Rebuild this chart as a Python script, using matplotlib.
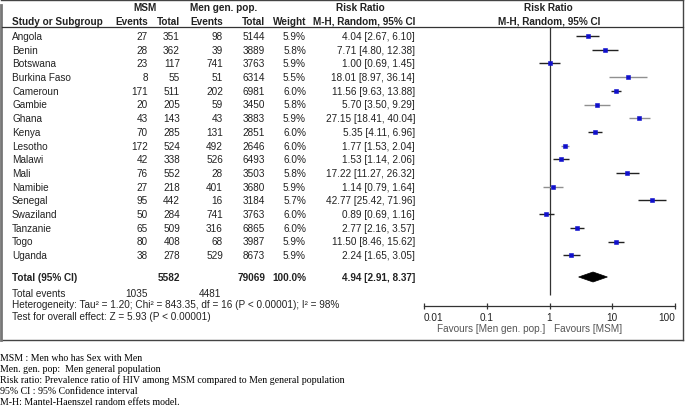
import matplotlib
matplotlib.use("Agg")
import matplotlib.pyplot as plt
from matplotlib.lines import Line2D
from matplotlib.patches import Polygon

studies = ["Angola", "Benin", "Botswana", "Burkina Faso", "Cameroun", "Gambie", "Ghana",
           "Kenya", "Lesotho", "Malawi", "Mali", "Namibie", "Senegal", "Swaziland",
           "Tanzanie", "Togo", "Uganda"]
msm_events = [27, 28, 23, 8, 171, 20, 43, 70, 172, 42, 76, 27, 95, 50, 65, 80, 38]
msm_total = [351, 362, 117, 55, 511, 205, 143, 285, 524, 338, 552, 218, 442, 284, 509, 408, 278]
gen_events = [98, 39, 741, 51, 202, 59, 43, 131, 492, 526, 28, 401, 16, 741, 316, 68, 529]
gen_total = [5144, 3889, 3763, 6314, 6981, 3450, 3883, 2851, 2646, 6493, 3503, 3680, 3184,
             3763, 6865, 3987, 8673]
weights = [5.9, 5.8, 5.9, 5.5, 6.0, 5.8, 5.9, 6.0, 6.0, 6.0, 5.8, 5.9, 5.7, 6.0, 6.0, 5.9, 5.9]
rr = [4.04, 7.71, 1.00, 18.01, 11.56, 5.70, 27.15, 5.35, 1.77, 1.53, 17.22, 1.14, 42.77,
      0.89, 2.77, 11.50, 2.24]
lo = [2.67, 4.80, 0.69, 8.97, 9.63, 3.50, 18.41, 4.11, 1.53, 1.14, 11.27, 0.79, 25.42,
      0.69, 2.16, 8.46, 1.65]
hi = [6.10, 12.38, 1.45, 36.14, 13.88, 9.29, 40.04, 6.96, 2.04, 2.06, 26.32, 1.64, 71.96,
      1.16, 3.57, 15.62, 3.05]
gray_ci = ["Burkina Faso", "Gambie", "Ghana", "Lesotho", "Namibie"]

total_msm = 5582
total_gen = 79069
total_events_msm = 1035
total_events_gen = 4481
pooled = (4.94, 2.91, 8.37)
xticks = [0.01, 0.1, 1, 10, 100]
xticklabels = ["0.01", "0.1", "1", "10", "100"]
footnotes = [
    "MSM : Men who has Sex with Men",
    "Men. gen. pop:  Men general population",
    "Risk ratio: Prevalence ratio of HIV among MSM compared to Men general population",
    "95% CI : 95% Confidence interval",
    "M-H: Mantel-Haenszel random effets model.",
]

W, H = 685, 410
fig = plt.figure(figsize=(W / 100, H / 100), dpi=100)
plt.rcParams['font.family'] = ['Liberation Sans', 'DejaVu Sans']
FS = 7.2
TC = "#222222"


def T(x, y, s, ha="left", bold=False, color=TC, fs=FS, family=None):
    kw = {}
    if family:
        kw["family"] = family
    fig.text(x / W, 1 - y / H, s, ha=ha, va="center", fontsize=fs,
             fontweight="bold" if bold else "normal", color=color, **kw)


def L(x0, y0, x1, y1, color="#333333", lw=0.9):
    fig.add_artist(Line2D([x0 / W, x1 / W], [1 - y0 / H, 1 - y1 / H],
                          color=color, lw=lw, transform=fig.transFigure))


# border
L(1, 0.5, 683, 0.5, color="#444444", lw=1.0)
L(683, 0.5, 683, 341, color="#444444", lw=1.0)
L(1, 341, 683, 341, color="#444444", lw=1.0)
L(1.2, 6, 1.2, 341, color="#777777", lw=2.0)
L(2, 28, 683, 28, color="#333333", lw=0.9)

# headers
T(145, 8, "MSM", ha="center", bold=True)
T(190, 8, "Men gen. pop.", bold=True)
T(360, 8, "Risk Ratio", ha="center", bold=True)
T(548, 8, "Risk Ratio", ha="center", bold=True)
T(12, 22, "Study or Subgroup", bold=True)
T(148, 22, "Events", ha="right", bold=True)
T(180, 22, "Total", ha="right", bold=True)
T(223, 22, "Events", ha="right", bold=True)
T(265, 22, "Total", ha="right", bold=True)
T(306, 22, "Weight", ha="right", bold=True)
T(415, 22, "M-H, Random, 95% CI", ha="right", bold=True)
T(549, 22, "M-H, Random, 95% CI", ha="center", bold=True)


def row_y(i):
    return 37 + i * 13.7


for i, s in enumerate(studies):
    y = row_y(i)
    T(12, y, s)
    T(148, y, str(msm_events[i]), ha="right")
    T(180, y, str(msm_total[i]), ha="right")
    T(223, y, str(gen_events[i]), ha="right")
    T(265, y, str(gen_total[i]), ha="right")
    T(306, y, f"{weights[i]:.1f}%", ha="right")
    T(415, y, f"{rr[i]:.2f} [{lo[i]:.2f}, {hi[i]:.2f}]", ha="right")

yt = 278
T(12, yt, "Total (95% CI)", bold=True)
T(180, yt, str(total_msm), ha="right", bold=True)
T(265, yt, str(total_gen), ha="right", bold=True)
T(306, yt, "100.0%", ha="right", bold=True)
T(415, yt, f"{pooled[0]:.2f} [{pooled[1]:.2f}, {pooled[2]:.2f}]", ha="right", bold=True)
T(12, 294, "Total events")
T(148, 294, str(total_events_msm), ha="right")
T(221, 294, str(total_events_gen), ha="right")
T(12, 305.5, "Heterogeneity: Tau\u00b2 = 1.20; Chi\u00b2 = 843.35, df = 16 (P < 0.00001); I\u00b2 = 98%")
T(12, 317, "Test for overall effect: Z = 5.93 (P < 0.00001)")

# forest axes
ax_l, ax_r, ax_t, ax_b = 424, 675, 28, 307
ax = fig.add_axes([ax_l / W, 1 - ax_b / H, (ax_r - ax_l) / W, (ax_b - ax_t) / H])
ax.set_xscale("log")
ax.set_xlim(0.01, 100)
ax.set_ylim(ax_b, ax_t)
ax.patch.set_alpha(0)
for sp in ["left", "right", "top"]:
    ax.spines[sp].set_visible(False)
ax.spines["bottom"].set_color("#333333")
ax.spines["bottom"].set_linewidth(0.9)
ax.set_yticks([])
ax.xaxis.set_minor_locator(matplotlib.ticker.NullLocator())
ax.set_xticks(xticks)
ax.set_xticklabels(xticklabels)
ax.tick_params(axis="x", direction="inout", length=5, width=0.9, color="#333333",
               labelsize=FS, labelcolor=TC, pad=1.5)
labs = ax.get_xticklabels()
labs[0].set_ha("left")
labs[-1].set_ha("right")

ax.vlines(1, ax_t, 296, color="#333333", lw=0.9)
for i in range(len(studies)):
    y = row_y(i)
    c = "#909090" if studies[i] in gray_ci else "#222222"
    ax.plot([lo[i], hi[i]], [y, y], color=c, lw=1.0, solid_capstyle="butt", zorder=2)
    ax.plot([rr[i]], [y], marker="s", ms=2.5 + (weights[i] - 5.5) * 0.4,
            color="#1010cc", mec="#1010cc", mew=0.4, ls="none", zorder=3)

pe, pl, ph = pooled
diamond = Polygon([[pl, yt], [pe, yt - 5], [ph, yt], [pe, yt + 5]], closed=True,
                  facecolor="black", edgecolor="black", lw=0.5)
ax.add_patch(diamond)

T(545, 329, "Favours [Men gen. pop.]", ha="right", color="#555555")
T(554, 329, "Favours [MSM]", ha="left", color="#555555")

# footnotes
for k, s in enumerate(footnotes):
    T(0, 359 + k * 10.8, s, family=["Liberation Serif", "DejaVu Serif"], fs=7.1, color="black")

fig.savefig("out.png", dpi=100)
